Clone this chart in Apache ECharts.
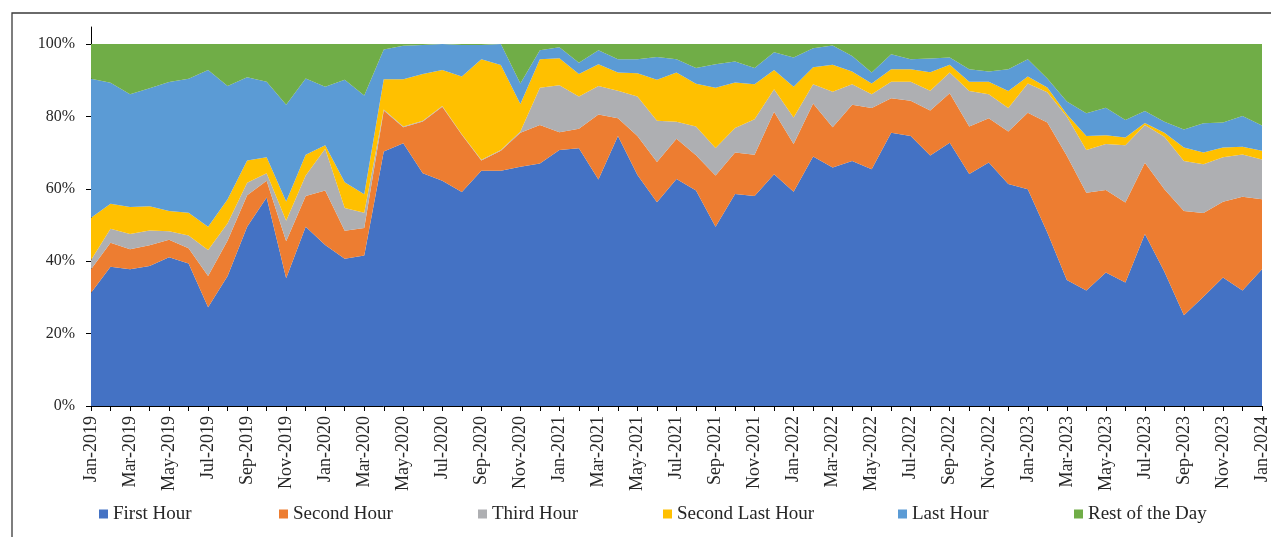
<!DOCTYPE html>
<html>
<head>
<meta charset="utf-8">
<script src="https://cdn.jsdelivr.net/npm/echarts@6/dist/echarts.min.js"></script>
<style>
  html, body { margin: 0; padding: 0; background: #fff; }
  #main { width: 1271px; height: 537px; }
</style>
</head>
<body>
<div id="main"></div>
<script>
var months = ['Jan-2019','Feb-2019','Mar-2019','Apr-2019','May-2019','Jun-2019','Jul-2019','Aug-2019','Sep-2019','Oct-2019','Nov-2019','Dec-2019',
  'Jan-2020','Feb-2020','Mar-2020','Apr-2020','May-2020','Jun-2020','Jul-2020','Aug-2020','Sep-2020','Oct-2020','Nov-2020','Dec-2020',
  'Jan-2021','Feb-2021','Mar-2021','Apr-2021','May-2021','Jun-2021','Jul-2021','Aug-2021','Sep-2021','Oct-2021','Nov-2021','Dec-2021',
  'Jan-2022','Feb-2022','Mar-2022','Apr-2022','May-2022','Jun-2022','Jul-2022','Aug-2022','Sep-2022','Oct-2022','Nov-2022','Dec-2022',
  'Jan-2023','Feb-2023','Mar-2023','Apr-2023','May-2023','Jun-2023','Jul-2023','Aug-2023','Sep-2023','Oct-2023','Nov-2023','Dec-2023',
  'Jan-2024'];

// share of turnover (%) by time of day
var firstHour = [31.3,38.5,37.8,38.7,41.1,39.4,27.3,35.9,49.5,57.6,35.3,49.5,44.5,40.7,41.6,
  70.3,72.6,64.3,62.2,59.1,65.0,65.0,66.1,67.0,70.7,71.2,62.6,74.6,63.8,56.3,
  62.7,59.5,49.5,58.6,58.0,64.0,59.2,68.9,65.9,67.7,65.4,75.5,74.6,69.2,72.7,
  64.1,67.3,61.3,59.9,47.9,34.8,31.9,36.9,34.1,47.5,37.1,25.1,30.2,35.5,31.9,37.8];
var secondHour = [6.5,6.6,5.5,5.7,4.8,4.2,8.6,9.8,8.7,4.6,10.2,8.5,15.0,7.7,7.6,
  11.3,4.4,14.3,20.5,15.8,2.8,5.5,9.4,10.6,4.9,5.4,17.9,4.9,10.8,11.1,
  11.1,9.8,14.2,11.4,11.4,17.3,13.2,14.7,11.1,15.5,16.9,9.5,9.7,12.4,13.7,
  13.1,12.2,14.5,21.1,30.4,34.3,27.0,22.8,22.1,19.7,22.8,28.8,23.1,20.9,25.9,19.3];
var thirdHour = [2.5,3.9,4.2,4.1,2.4,3.5,7.2,4.8,3.5,2.1,5.7,5.7,11.6,6.3,4.2,
  0.3,0.2,0.2,0.2,0.2,0.2,0.2,0.3,10.3,13.0,8.9,7.9,7.6,10.9,11.4,
  4.7,7.9,7.6,6.8,9.8,6.2,7.3,5.3,9.8,5.7,3.8,4.6,5.3,5.5,5.7,
  9.8,6.6,6.5,8.1,8.4,10.9,11.8,12.7,15.8,10.4,14.5,13.8,13.5,12.3,11.7,11.0];
var secondLastHour = [11.7,6.9,7.5,6.7,5.6,6.3,6.4,6.6,6.1,4.4,5.3,5.7,0.9,7.1,5.1,
  8.4,13.1,12.9,9.9,15.9,27.8,23.5,7.6,7.9,7.5,6.2,6.0,5.0,6.4,11.3,
  13.6,11.8,16.6,12.6,9.7,5.3,8.5,4.7,7.5,3.5,3.0,3.4,3.4,5.1,2.2,
  2.6,3.5,4.7,1.9,1.3,0.6,3.9,2.4,2.2,0.6,1.1,3.7,3.2,2.7,2.1,2.4];
var lastHour = [38.4,33.4,31.1,32.6,35.6,37.0,43.3,31.3,23.0,20.9,26.7,21.1,16.2,28.3,27.3,
  8.2,9.2,8.0,7.2,8.7,3.9,5.8,5.7,2.5,3.0,3.1,3.9,3.7,3.9,6.3,
  3.7,4.4,6.5,5.8,4.5,4.9,8.1,5.2,5.3,4.3,3.0,4.2,2.8,3.8,2.0,
  3.4,2.8,6.0,4.8,2.5,3.5,6.3,7.6,4.8,3.3,3.0,5.0,8.1,6.9,8.5,7.0];
var restOfDay = [9.6,10.7,13.9,12.2,10.5,9.6,7.2,11.6,9.2,10.4,16.8,9.5,11.8,9.9,14.2,
  1.5,0.5,0.3,0,0.3,0.3,0,10.9,1.7,0.9,5.2,1.7,4.2,4.2,3.6,
  4.2,6.6,5.6,4.8,6.6,2.3,3.7,1.2,0.4,3.3,7.9,2.8,4.2,4.0,3.7,
  7.0,7.6,7.0,4.2,9.5,15.9,19.1,17.6,21.0,18.5,21.5,23.6,21.9,21.7,19.9,22.5];
var yTicks = [0, 20, 40, 60, 80, 100];

var names = ['First Hour','Second Hour','Third Hour','Second Last Hour','Last Hour','Rest of the Day'];
var colors = ['#4472C4','#ED7D31','#AEAFB2','#FFC000','#5B9BD5','#70AD47'];
var values = [firstHour, secondHour, thirdHour, secondLastHour, lastHour, restOfDay];
var legendLeft = [99, 279, 478, 663, 898, 1074];

var serif = '"Liberation Serif", "DejaVu Serif", serif';
var textColor = '#262626';

var myChart = echarts.init(document.getElementById('main'));

var series = values.map(function (d, i) {
  return {
    name: names[i],
    type: 'line',
    stack: 'total',
    data: d,
    showSymbol: false,
    symbol: 'none',
    lineStyle: { width: 0 },
    areaStyle: { color: colors[i], opacity: 1 },
    itemStyle: { color: colors[i] }
  };
});

// one legend per item so each sits where the original put it
var legends = names.map(function (n, i) {
  return {
    data: [n],
    left: legendLeft[i],
    top: 503,
    icon: 'rect',
    itemWidth: 9,
    itemHeight: 9,
    padding: 0,
    textStyle: { fontFamily: serif, fontSize: 19, color: textColor, lineHeight: 22 }
  };
});

var option = {
  animation: false,
  color: colors,
  legend: legends,
  grid: { left: 91, right: 5, top: 27, bottom: 131 },
  graphic: [{
    type: 'rect',
    silent: true,
    z: -10,
    shape: { x: 12, y: 13, width: 1400, height: 700 },
    style: { fill: 'none', stroke: '#3a3a3a', lineWidth: 1.3 }
  }],
  xAxis: {
    type: 'category',
    boundaryGap: false,
    data: months,
    axisLine: { lineStyle: { color: '#000', width: 1 } },
    axisTick: { show: true, interval: 0, length: 5, lineStyle: { color: '#000' } },
    axisLabel: {
      interval: 1,
      rotate: 90,
      margin: 10,
      fontFamily: serif,
      fontSize: 18,
      color: textColor
    },
    splitLine: { show: false }
  },
  yAxis: {
    type: 'value',
    min: 0,
    max: 104.7,
    interval: 20,
    axisLine: { show: true, lineStyle: { color: '#000', width: 1 } },
    axisTick: { show: true, length: 5, customValues: yTicks, lineStyle: { color: '#000' } },
    axisLabel: {
      customValues: yTicks,
      margin: 16,
      fontFamily: serif,
      fontSize: 16,
      color: textColor,
      formatter: function (v) { return v + '%'; }
    },
    splitLine: { show: false }
  },
  series: series
};

myChart.setOption(option);
</script>
</body>
</html>
